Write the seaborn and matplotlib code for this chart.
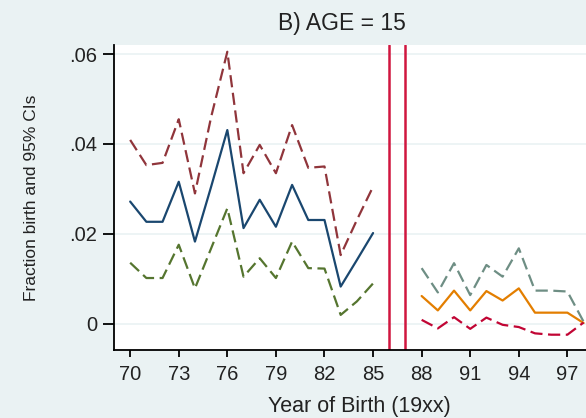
import numpy as np
import pandas as pd
import matplotlib
matplotlib.use('Agg')
from matplotlib import pyplot as plt
import seaborn as sns

# cohorts before the reform
years_a = [70, 71, 72, 73, 74, 75, 76, 77, 78, 79, 80, 81, 82, 83, 84, 85]
est_a = [0.0272, 0.0227, 0.0227, 0.0316, 0.0183, 0.0305, 0.0431, 0.0213, 0.0276, 0.0216,
         0.0309, 0.0231, 0.0231, 0.0083, 0.0142, 0.0202]
hi_a = [0.0409, 0.0353, 0.0358, 0.0455, 0.0290, 0.0460, 0.0605, 0.0335, 0.0398, 0.0335,
        0.0442, 0.0347, 0.0350, 0.0153, 0.0231, 0.0305]
lo_a = [0.0136, 0.0102, 0.0102, 0.0176, 0.0079, 0.0168, 0.0257, 0.0105, 0.0146, 0.0102,
        0.0183, 0.0124, 0.0123, 0.0020, 0.0050, 0.0090]

# cohorts after the reform
years_b = [88, 89, 90, 91, 92, 93, 94, 95, 96, 97, 98]
est_b = [0.0062, 0.0030, 0.0074, 0.0030, 0.0073, 0.0052, 0.0079, 0.0025, 0.0025, 0.0025, 0.0002]
hi_b = [0.0124, 0.0070, 0.0135, 0.0064, 0.0131, 0.0105, 0.0168, 0.0074, 0.0074, 0.0072, 0.0005]
lo_b = [0.0009, -0.0010, 0.0015, -0.0011, 0.0014, -0.0002, -0.0007, -0.0021, -0.0024, -0.0024, 0.0003]

reform_lines = [86, 87]
xticks = [70, 73, 76, 79, 82, 85, 88, 91, 94, 97]
yticks = [0, 0.02, 0.04, 0.06]
ytick_labels = ['0', '.02', '.04', '.06']

bg = '#eaf2f3'
sns.set_style('white')
plt.rcParams['font.family'] = ['Liberation Sans', 'DejaVu Sans']

fig = plt.figure(figsize=(5.86, 4.18), dpi=100, facecolor=bg)
ax = fig.add_axes([0.1945, 0.1627, 0.8055, 0.7296])
ax.set_facecolor('white')

for y in yticks:
    ax.axhline(y, color=bg, lw=1.2, zorder=0)

dash = (5.5, 2.5)
series = [
    (years_a, hi_a, '#90353b', dash),
    (years_a, est_a, '#1a476f', None),
    (years_a, lo_a, '#55752f', dash),
    (years_b, hi_b, '#6e8e84', dash),
    (years_b, est_b, '#e37e00', None),
    (years_b, lo_b, '#c10534', dash),
]
for xs, ys, col, ds in series:
    df = pd.DataFrame({'year': xs, 'value': ys})
    line = sns.lineplot(data=df, x='year', y='value', color=col, lw=1.6, ax=ax)
    if ds is not None:
        line.lines[-1].set_dashes(ds)

for x in reform_lines:
    ax.axvline(x, color='#d0163f', lw=1.8)

ax.set_xlim(69.0, 98.15)
ax.set_ylim(-0.0058, 0.062)
ax.set_xticks(xticks)
ax.set_xticklabels([str(t) for t in xticks])
ax.set_yticks(yticks)
ax.set_yticklabels(ytick_labels)

for side in ['top', 'right']:
    ax.spines[side].set_visible(False)
for side in ['left', 'bottom']:
    ax.spines[side].set_color('black')
    ax.spines[side].set_linewidth(1.3)
ax.tick_params(axis='both', direction='out', width=1.3, color='black',
               labelsize=14.5, bottom=True, left=True, labelcolor='#222222')
ax.tick_params(axis='x', length=5, pad=5.5)
ax.tick_params(axis='y', length=8, pad=4)

ax.set_xlabel('Year of Birth (19xx)', fontsize=15.5, color='#222222')
ax.xaxis.set_label_coords(0.519, -0.150)
ax.set_ylabel('Fraction birth and 95% CIs', fontsize=12.5, color='#222222')
ax.yaxis.set_label_coords(-0.158, 0.5)
title = ax.set_title('B) AGE = 15', fontsize=16.5, pad=10.5, color='#222222')
title.set_x(0.483)

fig.savefig('out.png', dpi=100, facecolor=bg)
